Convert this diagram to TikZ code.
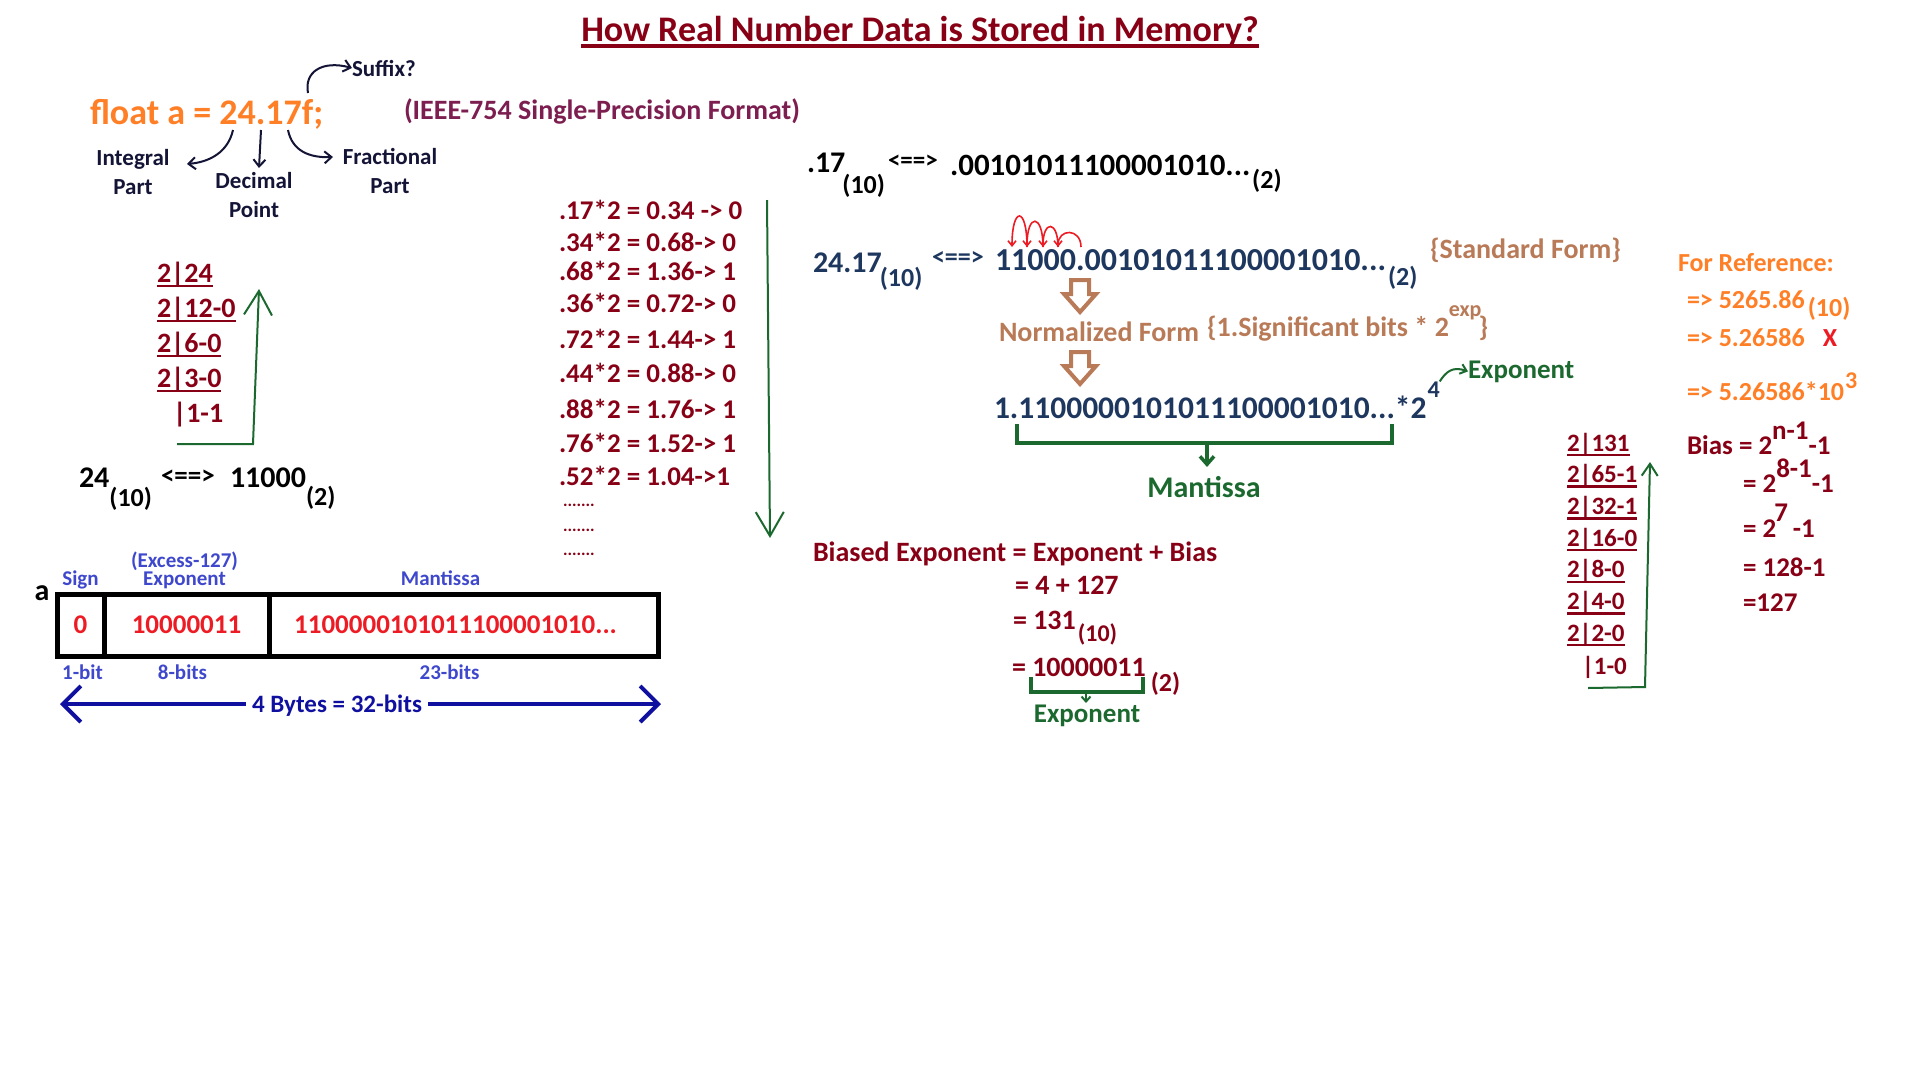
\documentclass[tikz,border=0pt]{standalone}
\usepackage{fontspec}
\setmainfont{Carlito}
\usetikzlibrary{arrows.meta, positioning, calc}
\definecolor{titlecol}{RGB}{136,0,21}
\definecolor{orangecol}{RGB}{255,127,39}
\definecolor{ieeecol}{RGB}{125,30,80}
\definecolor{navycol}{RGB}{20,20,55}
\definecolor{slatecol}{RGB}{30,55,95}
\definecolor{browncol}{RGB}{185,122,87}
\definecolor{greencol}{RGB}{28,105,48}
\definecolor{bitred}{RGB}{237,28,36}
\definecolor{indigocol}{RGB}{63,72,204}
\definecolor{bytecol}{RGB}{15,15,160}
\newcommand{\fz}[1]{\fontsize{#1}{#1}\selectfont}
\tikzset{hollowdown/.pic={
  \draw[browncol, line width=4pt, line join=miter]
    (-9,0) -- (9,0) -- (9,14) -- (16,14) -- (0,32) -- (-16,14) -- (-9,14) -- cycle;}}

\begin{document}
\begin{tikzpicture}[x=1pt, y=-1pt,
  every node/.style={inner sep=0pt, outer sep=0pt},
  txt/.style={anchor=base west, font=\bfseries\fz{#1}},
  ctxt/.style={anchor=base, font=\bfseries\fz{#1}},
  lbl/.style={anchor=base, align=center, navycol,
              font=\bfseries\fontsize{23}{29}\selectfont},
  blbl/.style={anchor=base, indigocol, font=\bfseries\fz{21}},
  cell/.style={draw=black, line width=5pt, minimum height=62pt,
               text=bitred, font=\bfseries\fz{27}},
  navyarr/.style={-{Straight Barb[length=7pt,width=12pt]}, line width=2pt, navycol},
  greenarr/.style={-{Straight Barb[length=24pt,width=28pt]}, line width=2pt, greencol},
  greenthin/.style={-{Straight Barb[length=6pt,width=10pt]}, line width=2pt, greencol},
  hop/.style={-{Straight Barb[length=5pt,width=8pt]}, line width=1.6pt, bitred},
  bracket/.style={line width=4.5pt, greencol, line join=miter},
  bytearr/.style={<->, >={Straight Barb[length=18pt,width=36pt]}, line width=4pt, bytecol},
]
\path[use as bounding box, fill=white] (0,0) rectangle (1920,1080);

% Title
\node[ctxt=36, titlecol] (title) at (920,41) {How Real Number Data is Stored in Memory?};
\draw[titlecol, line width=4pt] ([yshift=-5pt]title.base west) -- ([yshift=-5pt]title.base east);

% Declaration and its parts
\node[txt=36, orangecol] (decl) at (90,124) {float a = 24.17f;};
\node[txt=28, ieeecol] (ieee) at (404,119) {(IEEE-754 Single-Precision Format)};
\node[txt=23, navycol] (suffix) at (352,76) {Suffix?};
\node[lbl] (intl) at (133,194) {Integral\\Part};
\node[lbl] (decpt) at (254,217) {Decimal\\Point};
\node[lbl] (frac) at (390,193) {Fractional\\Part};
\coordinate (pf) at (308,93);
\coordinate (p4) at (233,130);
\coordinate (pdot) at (261,130);
\coordinate (pone) at (288,130);
\draw[navyarr] (pf) .. controls (304,72) and (322,60) .. (suffix.west);
\draw[navyarr] (p4) .. controls (228,152) and (210,162) .. (187,164);
\draw[navyarr] (pdot) -- (259,168);
\draw[navyarr] (pone) .. controls (292,150) and (308,158) .. (333,157);

% Integral part: division by 2
\foreach \row [count=\i from 0] in {2|24,2|12-0,2|6-0,2|3-0} {
  \node[txt=28, titlecol] (ld\i) at (157,282+35*\i) {\row};
  \draw[titlecol, line width=2.5pt] ([yshift=-4pt]ld\i.base west) -- ([yshift=-4pt]ld\i.base east);
}
\node[txt=28, titlecol] (ld4) at (173,422) {|1-1};
\coordinate (lstart) at (177,444);
\coordinate (lend) at (259,289);
\draw[greenarr] (lstart) -- (253,444) -- (lend);

\node[txt=30] (n24) at (79,487) {24};
\node[txt=26] at ([yshift=-19pt]n24.base east) {(10)};
\node[txt=27] (eq1) at (161,484) {<==>};
\node[txt=30] (b24) at (230,487) {11000};
\node[txt=26] at ([yshift=-18pt]b24.base east) {(2)};

% Memory layout
\node[ctxt=30] (avar) at (42,600) {a};
\node[cell, minimum width=47pt, anchor=north west] (sgn) at (57,594) {0};
\node[cell, minimum width=165pt, right=0pt of sgn] (expo) {10000011};
\node[cell, minimum width=389pt, right=0pt of expo] (mant) {\hspace*{-16pt}1100000101011100001010...};
\node[blbl] at ([yshift=9pt]sgn.north) {Sign};
\node[blbl] at ([xshift=-2pt,yshift=27pt]expo.north) {(Excess-127)};
\node[blbl] at ([xshift=-2pt,yshift=9pt]expo.north) {Exponent};
\node[blbl] at ([xshift=-23pt,yshift=9pt]mant.north) {Mantissa};
\node[blbl] at ([xshift=2pt,yshift=-23pt]sgn.south) {1-bit};
\node[blbl] at ([xshift=-4pt,yshift=-23pt]expo.south) {8-bits};
\node[blbl] at ([xshift=-14pt,yshift=-23pt]mant.south) {23-bits};
\coordinate (bl) at (60,704);
\coordinate (br) at (661,704);
\draw[bytearr] (bl) -- (br);
\node[anchor=base, fill=white, inner xsep=6pt, inner ysep=3pt, text=bytecol,
      font=\bfseries\fz{25}] (bytes) at (337,712) {4 Bytes = 32-bits};

% Fractional part: multiplication by 2
\foreach \yb/\eq [count=\i] in {219/.17*2 = 0.34 -> 0, 251/.34*2 = 0.68-> 0,
    280/.68*2 = 1.36-> 1, 312/.36*2 = 0.72-> 0, 348/.72*2 = 1.44-> 1,
    382/.44*2 = 0.88-> 0, 418/.88*2 = 1.76-> 1, 452/.76*2 = 1.52-> 1,
    485/.52*2 = 1.04->1}
  \node[txt=27, titlecol] (m\i) at (559,\yb) {\eq};
\foreach \yb in {506,531,555}
  \node[txt=17, titlecol] at (563,\yb) {.......};
\coordinate (mtop) at (767,200);
\coordinate (mbot) at (770,538);
\draw[greenarr] (mtop) -- (mbot);

% Binary forms
\node[txt=30] (f17) at (807,172) {.17};
\node[txt=26] at ([xshift=-3pt,yshift=-21pt]f17.base east) {(10)};
\node[txt=25] (eq2) at (888,168) {<==>};
\node[txt=31] (fbin) at (950,175) {.00101011100001010...};
\node[txt=26] at ([xshift=2pt,yshift=-13pt]fbin.base east) {(2)};

\node[txt=30, slatecol] (d2417) at (813,272) {24.17};
\node[txt=26, slatecol] at ([xshift=-2pt,yshift=-14pt]d2417.base east) {(10)};
\node[txt=26, slatecol] (eq3) at (932,265) {<==>};
\node[txt=32, slatecol] (stdf) at (995,270) {11000.00101011100001010...};
\node[txt=26, slatecol] at ([xshift=2pt,yshift=-15pt]stdf.base east) {(2)};
\node[txt=28, browncol] (stdlbl) at (1430,258) {\{Standard Form\}};
\foreach \xa/\xb/\top in {1081/1058/228, 1058/1043/220, 1043/1027/213, 1027/1012/206}
  \draw[hop] (\xa,247) .. controls (\xa,\top) and (\xb,\top) .. (\xb,247);

\pic at (1080,280) {hollowdown};
\node[txt=28, browncol] (normf) at (999,341) {Normalized Form};
\node[txt=28, browncol] (sigb) at (1207,336) {\{1.Significant bits * 2};
\node[txt=22, browncol] (expsup) at ([yshift=20pt]sigb.base east) {exp};
\node[txt=28, browncol] at ($(expsup.base east |- sigb.base)+(-3,0)$) {\}};
\pic at (1080,352) {hollowdown};

\node[txt=31.5, slatecol] (norm) at (994,418) {1.1100000101011100001010...*2};
\node[txt=24, slatecol] (four) at ([xshift=1pt,yshift=21pt]norm.base east) {4};
\draw[bracket] (1017,424) -- (1017,443) -- (1392,443) -- (1392,424);
\draw[greencol, -{Straight Barb[length=8pt,width=14pt]}, line width=3.5pt] (1207,445) -- (1207,467);
\node[ctxt=30, greencol] (mlbl) at (1204,497) {Mantissa};
\node[txt=27, greencol] (explbl) at (1468,378) {Exponent};
\draw[greenthin] (four.north east) .. controls (1446,372) and (1452,366) .. (explbl.west);

% Biased exponent
\node[txt=28, titlecol] (biased) at (813,561) {Biased Exponent = Exponent + Bias};
\node[txt=28, titlecol] (be1) at (1015,594) {= 4 + 127};
\node[txt=28, titlecol] (be2) at (1013,629) {= 131};
\node[txt=24, titlecol] at ([xshift=2pt,yshift=-12pt]be2.base east) {(10)};
\node[txt=28, titlecol] (be3) at (1012,676) {= 10000011};
\node[txt=26, titlecol] at ([xshift=5pt,yshift=-15pt]be3.base east) {(2)};
\draw[bracket, line width=4pt] (1031,677) -- (1031,692) -- (1143,692) -- (1143,677);
\draw[greencol, -{Straight Barb[length=5pt,width=9pt]}, line width=2pt] (1086,692) -- (1086,703);
\node[ctxt=27, greencol] (explbl2) at (1087,722) {Exponent};

% Reference example
\node[txt=26, orangecol] (forref) at (1678,271) {For Reference:};
\node[txt=26, orangecol] (r1) at (1687,308) {=> 5265.86};
\node[txt=26, orangecol] at ([xshift=3pt,yshift=-8pt]r1.base east) {(10)};
\node[txt=26, orangecol] (r2) at (1687,346) {=> 5.26586};
\node[txt=26, bitred] at ([xshift=18pt]r2.base east) {X};
\node[txt=26, orangecol] (r3) at (1687,400) {=> 5.26586*10};
\node[txt=24, orangecol] at ([xshift=1pt,yshift=12pt]r3.base east) {3};

% Bias
\node[txt=27, titlecol] (bias1) at (1687,454) {Bias = 2};
\node[txt=27, titlecol] (bsup1) at ([yshift=15pt]bias1.base east) {n-1};
\node[txt=27, titlecol] at (bsup1.base east |- bias1.base) {-1};
\node[txt=27, titlecol] (bias2) at (1743,492) {= 2};
\node[txt=27, titlecol] (bsup2) at ([yshift=15pt]bias2.base east) {8-1};
\node[txt=27, titlecol] at (bsup2.base east |- bias2.base) {-1};
\node[txt=27, titlecol] (bias3) at (1743,537) {= 2};
\node[txt=27, titlecol] (bsup3) at ([xshift=-2pt,yshift=16pt]bias3.base east) {7};
\node[txt=27, titlecol] at ($(bsup3.base east |- bias3.base)+(5,0)$) {-1};
\node[txt=27, titlecol] (bias4) at (1743,576) {= 128-1};
\node[txt=27, titlecol] (bias5) at (1743,611) {=127};

% 131 in binary
\foreach \row [count=\i from 0] in {2|131,2|65-1,2|32-1,2|16-0,2|8-0,2|4-0,2|2-0} {
  \node[txt=25, titlecol] (rd\i) at (1567,451+31.7*\i) {\row};
  \draw[titlecol, line width=2.5pt] ([yshift=-4pt]rd\i.base west) -- ([yshift=-4pt]rd\i.base east);
}
\node[txt=25, titlecol] (rd7) at (1582,674) {|1-0};
\coordinate (rstart) at (1588,688);
\coordinate (rend) at (1650,462);
\draw[greencol, -{Straight Barb[length=12pt,width=16pt]}, line width=2pt]
  (rstart) -- (1645,687) -- (rend);
\end{tikzpicture}
\end{document}
